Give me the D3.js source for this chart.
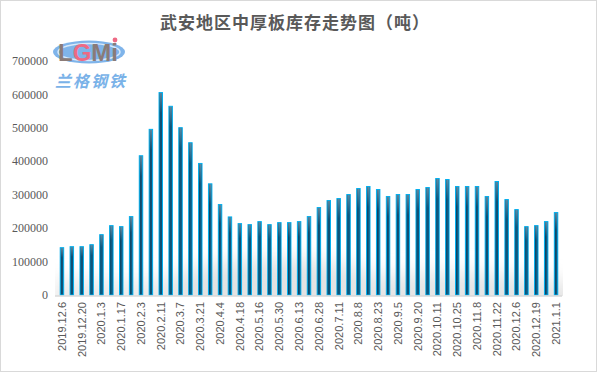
<!DOCTYPE html>
<html>
<head>
<meta charset="utf-8">
<script src="https://cdn.jsdelivr.net/npm/d3@7/dist/d3.min.js"></script>
<style>
  html, body { margin: 0; padding: 0; background: #fff; }
  svg { display: block; }
</style>
</head>
<body>
<svg id="chart" width="597" height="373"></svg>
<script>
const title = "武安地区中厚板库存走势图（吨）";
const categories = [
  "2019.12.6","2019.12.13","2019.12.20","2019.12.27","2020.1.3","2020.1.10","2020.1.17","2020.1.22",
  "2020.2.3","2020.2.7","2020.2.11","2020.2.21","2020.3.7","2020.3.14","2020.3.21","2020.3.28",
  "2020.4.4","2020.4.11","2020.4.18","2020.5.2","2020.5.16","2020.5.23","2020.5.30","2020.6.6",
  "2020.6.13","2020.6.20","2020.6.28","2020.7.4","2020.7.11","2020.7.25","2020.8.8","2020.8.15",
  "2020.8.23","2020.8.29","2020.9.5","2020.9.12","2020.9.20","2020.9.27","2020.10.11","2020.10.18",
  "2020.10.25","2020.11.1","2020.11.8","2020.11.15","2020.11.22","2020.11.29","2020.12.6","2020.12.12",
  "2020.12.19","2020.12.26","2021.1.1"
];
const values = [
  143000,146000,146000,152000,182000,209000,206000,236000,
  418000,497000,607000,566000,502000,457000,395000,334000,
  272000,235000,215000,212000,221000,212000,218000,218000,
  221000,236000,263000,284000,290000,302000,320000,326000,
  317000,296000,302000,302000,317000,323000,350000,347000,
  326000,326000,326000,296000,341000,287000,257000,206000,
  209000,221000,248000
];
const yTicks = [0,100000,200000,300000,400000,500000,600000,700000];

const svg = d3.select("#chart");
const W = 597, H = 373;

// outer border
svg.append("rect").attr("x",0.5).attr("y",0.5).attr("width",W-1).attr("height",H-2)
  .attr("fill","#fff").attr("stroke","#d9d9d9");

const defs = svg.append("defs");
const g1 = defs.append("linearGradient").attr("id","barGrad").attr("x1","0").attr("x2","1").attr("y1","0").attr("y2","0");
g1.append("stop").attr("offset","0%").attr("stop-color","#062c45");
g1.append("stop").attr("offset","55%").attr("stop-color","#125b82");
g1.append("stop").attr("offset","100%").attr("stop-color","#083a5a");
const g2 = defs.append("linearGradient").attr("id","topGrad").attr("x1","0").attr("x2","0").attr("y1","0").attr("y2","1");
g2.append("stop").attr("offset","0%").attr("stop-color","#ffffff").attr("stop-opacity",0.3);
g2.append("stop").attr("offset","100%").attr("stop-color","#ffffff").attr("stop-opacity",0);
const blur = defs.append("filter").attr("id","blur").attr("x","-50%").attr("y","-50%").attr("width","200%").attr("height","200%");
blur.append("feGaussianBlur").attr("stdDeviation",10);
defs.append("clipPath").attr("id","plotClip").append("rect").attr("x",55).attr("y",150).attr("width",508).attr("height",146);

const x = d3.scaleBand().domain(categories).range([57, 561]).paddingInner(0.55).paddingOuter(0.275);
const y = d3.scaleLinear().domain([0, 700000]).range([295, 61]);

// soft gray glow at bottom of plot
const glow = svg.append("g").attr("clip-path","url(#plotClip)").append("g").attr("filter","url(#blur)");
glow.append("rect").attr("x",55).attr("y",280).attr("width",508).attr("height",30).attr("fill","#e4e4e4");
glow.append("ellipse").attr("cx",x(categories[22])).attr("cy",y(0)+8).attr("rx",130).attr("ry",45).attr("fill","#e2e2e2");
glow.append("ellipse").attr("cx",x(categories[40])).attr("cy",y(0)+12).attr("rx",140).attr("ry",35).attr("fill","#e4e4e4");
glow.append("ellipse").attr("cx",x(categories[6])).attr("cy",y(0)+14).attr("rx",70).attr("ry",26).attr("fill","#eaeaea");

// title
svg.append("text").attr("x",295).attr("y",29).attr("text-anchor","middle")
  .attr("font-family","'Noto Sans CJK SC', sans-serif").attr("font-weight","bold")
  .attr("font-size",17).attr("letter-spacing",1).attr("fill","#595959").text(title);

// logo
const logo = svg.append("g");
logo.append("ellipse").attr("cx",89).attr("cy",52).attr("rx",36).attr("ry",11.5).attr("fill","#7fb4ea");
logo.append("ellipse").attr("cx",89).attr("cy",52).attr("rx",31).attr("ry",8.5).attr("fill","none").attr("stroke","#d8e9fa").attr("stroke-width",1.5);
const lt = logo.append("text").attr("x",88).attr("y",61).attr("text-anchor","middle")
  .attr("font-family","'Liberation Sans', Arial, sans-serif").attr("font-weight","bold").attr("font-size",24)
  .attr("textLength",60).attr("lengthAdjust","spacingAndGlyphs");
lt.append("tspan").attr("fill","#8a7b78").text("L");
lt.append("tspan").attr("fill","#ee6a84").text("G");
lt.append("tspan").attr("fill","#8a7b78").text("Mi");
logo.append("circle").attr("cx",115).attr("cy",40).attr("r",2.4).attr("fill","#ee6a84");
logo.append("text").attr("x",90).attr("y",87).attr("text-anchor","middle")
  .attr("font-family","'Noto Sans CJK SC', sans-serif").attr("font-weight","bold").attr("font-style","italic")
  .attr("font-size",16).attr("fill","#7ab2e8").attr("textLength",70).text("兰格钢铁");

// y axis labels
svg.append("g").selectAll("text").data(yTicks).join("text")
  .attr("x",48).attr("y",d=>y(d)).attr("dy","0.35em").attr("text-anchor","end")
  .attr("font-family","'Liberation Serif', 'Times New Roman', serif").attr("font-size",12)
  .attr("fill","#595959").text(d=>d);

// bars
const bars = svg.append("g");
bars.selectAll("rect.bar").data(values).join("rect").attr("class","bar")
  .attr("x",(d,i)=>x(categories[i])+0.5).attr("width",x.bandwidth()-1)
  .attr("y",d=>y(d)+0.5).attr("height",d=>y(0)-y(d)-0.5)
  .attr("fill","url(#barGrad)").attr("stroke","#00b0f0").attr("stroke-width",1);
bars.selectAll("rect.hl").data(values).join("rect").attr("class","hl")
  .attr("x",(d,i)=>x(categories[i])+1).attr("width",x.bandwidth()-2)
  .attr("y",d=>y(d)+1).attr("height",d=>Math.min(20,(y(0)-y(d))*0.2))
  .attr("fill","url(#topGrad)");

// baseline
svg.append("line").attr("x1",55).attr("x2",562).attr("y1",296).attr("y2",296)
  .attr("stroke","#d9d9d9").attr("stroke-width",1.5);

// x axis labels (every other category)
const xAxis = d3.axisBottom(x).tickValues(categories.filter((d,i)=>i%2===0)).tickSize(0).tickPadding(0);
const xg = svg.append("g").attr("transform","translate(0,302)").call(xAxis);
xg.select(".domain").remove();
xg.selectAll("text")
  .attr("font-family","'Liberation Sans', Arial, sans-serif").attr("font-size",11).attr("fill","#595959")
  .attr("transform","rotate(-90)").attr("text-anchor","end").attr("x",0).attr("y",0).attr("dy","0.35em");
</script>
</body>
</html>
